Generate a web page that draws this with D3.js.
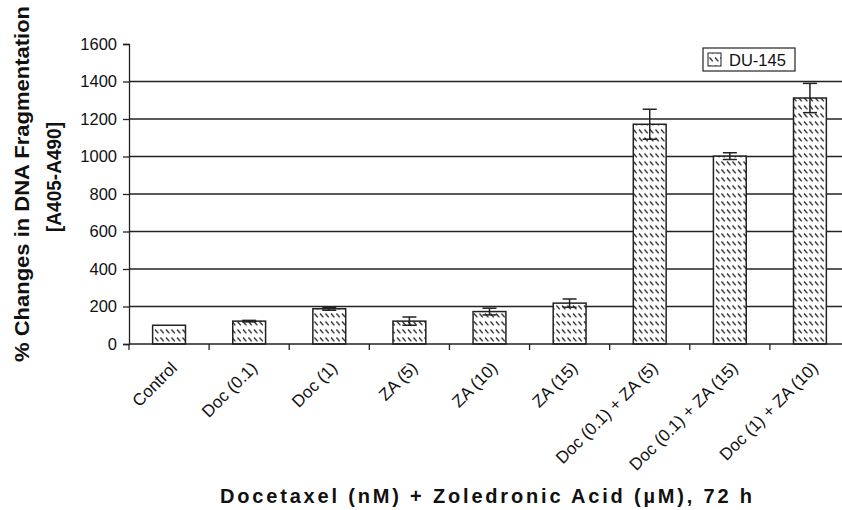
<!DOCTYPE html>
<html>
<head>
<meta charset="utf-8">
<script src="https://cdn.jsdelivr.net/npm/d3@7"></script>
<style>
  body { margin: 0; background: #fff; }
  text { font-family: Arial, "Liberation Sans", sans-serif; fill: #111; }
</style>
</head>
<body>
<script>
// data
var categories = ["Control", "Doc (0.1)", "Doc (1)", "ZA (5)", "ZA (10)", "ZA (15)",
                  "Doc (0.1) + ZA (5)", "Doc (0.1) + ZA (15)", "Doc (1) + ZA (10)"];
var values = [100, 122, 188, 122, 173, 218, 1172, 1002, 1312];
var errors = [0, 4, 8, 22, 18, 22, 80, 18, 78];
var yTicks = [0, 200, 400, 600, 800, 1000, 1200, 1400, 1600];
var seriesName = "DU-145";

var w = 842, h = 510;
var plotLeft = 129, plotRight = 850, plotTop = 44, plotBottom = 344;

var svg = d3.select("body").append("svg")
  .attr("width", w)
  .attr("height", h);

// hatch
var defs = svg.append("defs");
var pat = defs.append("pattern")
  .attr("id", "hatch")
  .attr("patternUnits", "userSpaceOnUse")
  .attr("width", 5.5)
  .attr("height", 8);
pat.append("rect").attr("width", 5.5).attr("height", 8).attr("fill", "#fff");
pat.append("line")
  .attr("x1", 1).attr("y1", 1.5).attr("x2", 4.3).attr("y2", 5.4)
  .attr("stroke", "#222").attr("stroke-width", 1.3);

var pIn = 0.59;
var x = d3.scaleBand().domain(categories).range([plotLeft, plotRight])
  .paddingInner(pIn).paddingOuter(pIn / 2);
var y = d3.scaleLinear().domain([0, 1600]).range([plotBottom, plotTop]);
var step = x.step();

var rows = categories.map(function(c, i) {
  return { cat: c, val: values[i], err: errors[i] };
});

// gridlines
svg.append("g").selectAll("line")
  .data(yTicks.filter(function(d) { return d > 0 && d < 1600; }))
  .enter().append("line")
  .attr("x1", plotLeft).attr("x2", w)
  .attr("y1", function(d) { return y(d); })
  .attr("y2", function(d) { return y(d); })
  .attr("stroke", "#222").attr("stroke-width", 1.3);

// y axis
var yAxis = svg.append("g")
  .attr("transform", "translate(" + plotLeft + ",0)")
  .call(d3.axisLeft(y).tickValues(yTicks).tickSize(6).tickPadding(6).tickFormat(d3.format("d")));
yAxis.select(".domain").attr("stroke", "#222").attr("stroke-width", 1.3);
yAxis.selectAll(".tick line").attr("stroke", "#222").attr("stroke-width", 1.3);
yAxis.selectAll("text").attr("font-size", 16.5).attr("fill", "#111")
  .style("font-family", "Arial, 'Liberation Sans', sans-serif");

// bars
svg.append("g").selectAll("rect")
  .data(rows)
  .enter().append("rect")
  .attr("x", function(d) { return x(d.cat); })
  .attr("y", function(d) { return y(d.val); })
  .attr("width", x.bandwidth())
  .attr("height", function(d) { return y(0) - y(d.val); })
  .attr("fill", "url(#hatch)")
  .attr("stroke", "#222").attr("stroke-width", 1.5);

// error bars
var cx = function(d) { return x(d.cat) + x.bandwidth() / 2; };
var eb = svg.append("g").selectAll("g")
  .data(rows.filter(function(d) { return d.err > 0; }))
  .enter().append("g");
eb.append("line")
  .attr("x1", cx).attr("x2", cx)
  .attr("y1", function(d) { return y(d.val + d.err); })
  .attr("y2", function(d) { return y(d.val - d.err); })
  .attr("stroke", "#222").attr("stroke-width", 1.5);
[1, -1].forEach(function(s) {
  eb.append("line")
    .attr("x1", function(d) { return cx(d) - 7; })
    .attr("x2", function(d) { return cx(d) + 7; })
    .attr("y1", function(d) { return y(d.val + s * d.err); })
    .attr("y2", function(d) { return y(d.val + s * d.err); })
    .attr("stroke", "#222").attr("stroke-width", 1.5);
});

// x axis line + ticks at band edges
svg.append("line")
  .attr("x1", plotLeft).attr("x2", w)
  .attr("y1", y(0)).attr("y2", y(0))
  .attr("stroke", "#222").attr("stroke-width", 1.4);
svg.append("g").selectAll("line")
  .data(categories)
  .enter().append("line")
  .attr("x1", function(d) { return x(d) - step * pIn / 2; })
  .attr("x2", function(d) { return x(d) - step * pIn / 2; })
  .attr("y1", y(0)).attr("y2", y(0) + 6)
  .attr("stroke", "#222").attr("stroke-width", 1.3);

// category labels
svg.append("g").selectAll("text")
  .data(categories)
  .enter().append("text")
  .attr("transform", function(d) {
    return "translate(" + (x(d) + x.bandwidth() / 2 + 9) + "," + (y(0) + 25) + ") rotate(-45)";
  })
  .attr("text-anchor", "end")
  .attr("font-size", 17)
  .text(function(d) { return d; });

// axis titles
svg.append("text")
  .attr("x", 486).attr("y", 503)
  .attr("text-anchor", "middle")
  .attr("font-size", 20).attr("font-weight", "bold")
  .attr("textLength", 532).attr("lengthAdjust", "spacing")
  .text("Docetaxel (nM) + Zoledronic Acid (\u00b5M), 72 h");

svg.append("text")
  .attr("transform", "translate(29,184) rotate(-90)")
  .attr("text-anchor", "middle")
  .attr("font-size", 21).attr("font-weight", "bold")
  .attr("textLength", 356).attr("lengthAdjust", "spacingAndGlyphs")
  .text("% Changes in DNA Fragmentation");
svg.append("text")
  .attr("transform", "translate(61,177) rotate(-90)")
  .attr("text-anchor", "middle")
  .attr("font-size", 20).attr("font-weight", "bold")
  .attr("textLength", 110).attr("lengthAdjust", "spacingAndGlyphs")
  .text("[A405-A490]");

// legend
var lg = svg.append("g").attr("transform", "translate(703,48)");
lg.append("rect").attr("width", 92).attr("height", 23)
  .attr("fill", "#fff").attr("stroke", "#222").attr("stroke-width", 1.2);
lg.append("rect").attr("x", 5).attr("y", 5).attr("width", 13).attr("height", 13)
  .attr("fill", "url(#hatch)").attr("stroke", "#222").attr("stroke-width", 1);
lg.append("text").attr("x", 26).attr("y", 18)
  .attr("font-size", 16.5).text(seriesName);
</script>
</body>
</html>
